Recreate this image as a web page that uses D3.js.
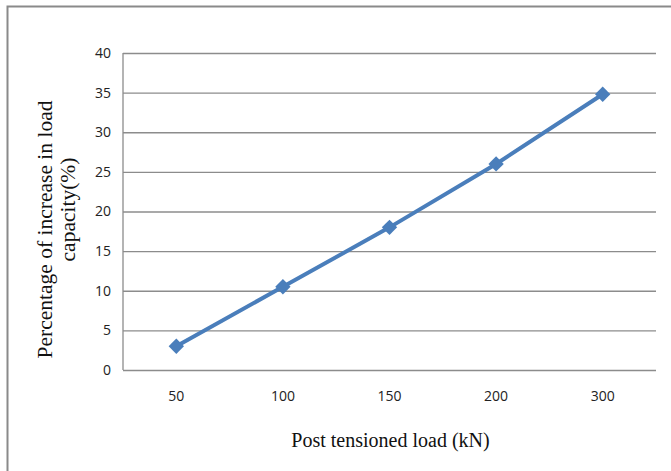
<!DOCTYPE html>
<html lang="en">
<head>
<meta charset="UTF-8">
<title>Post tensioned load vs increase in load capacity</title>
<script src="https://d3js.org/d3.v7.min.js"></script>
<style>
	body { margin: 0; background: #fff; }
	.grid line { stroke: #8c8c8c; stroke-width: 1.3; }
	.grid path { display: none; }
	.tick-label { font-family: "Open Sans", "Liberation Sans", sans-serif; font-size: 14px; fill: #222; }
	.axis-title { font-family: "Liberation Serif", "DejaVu Serif", serif; fill: #111; }
</style>
</head>
<body>
<div id="chart"></div>
<script>
// data
const loads = ["50", "100", "150", "200", "300"];
const increase = [3, 10.5, 18, 26, 34.8];
const yTicks = [0, 5, 10, 15, 20, 25, 30, 35, 40];

const W = 671, H = 471;
const margin = {top: 53, right: 15, bottom: 101, left: 123};
const width = W - margin.left - margin.right,
	  height = H - margin.top - margin.bottom;

const root = d3.select("#chart").append("svg")
	.attr("width", W)
	.attr("height", H);

// outer frame (only top and left edges fall inside the picture)
root.append("rect")
	.attr("x", 7.5).attr("y", 6.5)
	.attr("width", W + 20).attr("height", H + 20)
	.attr("fill", "none")
	.attr("stroke", "#8a8a8a")
	.attr("stroke-width", 2);

const svg = root.append("g")
	.attr("transform", `translate(${margin.left},${margin.top})`);

const x = d3.scaleBand().domain(loads).range([0, width]);
const y = d3.scaleLinear().domain([0, 40]).range([height, 0]);

// horizontal grid lines
svg.append("g")
	.attr("class", "grid")
	.call(d3.axisLeft(y).tickValues(yTicks).tickSize(-width).tickFormat(""));

// y axis line
svg.append("line")
	.attr("x1", 0).attr("x2", 0)
	.attr("y1", 0).attr("y2", height)
	.attr("stroke", "#8c8c8c").attr("stroke-width", 1.3);

// y tick labels
svg.selectAll(".ylab")
	.data(yTicks)
	.join("text")
	.attr("class", "tick-label")
	.attr("x", -12)
	.attr("y", d => y(d))
	.attr("dy", "0.35em")
	.attr("text-anchor", "end")
	.text(d => d);

// x tick labels
svg.selectAll(".xlab")
	.data(loads)
	.join("text")
	.attr("class", "tick-label")
	.attr("x", d => x(d) + x.bandwidth() / 2)
	.attr("y", height + 31)
	.attr("text-anchor", "middle")
	.text(d => d);

const pts = loads.map((d, i) => ({load: d, value: increase[i]}));

const line = d3.line()
	.x(d => x(d.load) + x.bandwidth() / 2)
	.y(d => y(d.value));

svg.append("path")
	.datum(pts)
	.attr("fill", "none")
	.attr("stroke", "#4a7ebb")
	.attr("stroke-width", 4)
	.attr("d", line);

svg.selectAll(".marker")
	.data(pts)
	.join("path")
	.attr("class", "marker")
	.attr("d", d3.symbol().type(d3.symbolDiamond2).size(150))
	.attr("transform", d => `translate(${x(d.load) + x.bandwidth() / 2},${y(d.value)})`)
	.attr("fill", "#4a7ebb");

// x axis title
svg.append("text")
	.attr("class", "axis-title")
	.style("font-size", "20px")
	.attr("x", width / 2 + 1)
	.attr("y", height + 77)
	.attr("text-anchor", "middle")
	.text("Post tensioned load (kN)");

// y axis title, two lines
svg.append("text")
	.attr("class", "axis-title")
	.style("font-size", "21.5px")
	.attr("transform", `translate(${-71},${height / 2 + 18}) rotate(-90)`)
	.attr("text-anchor", "middle")
	.text("Percentage of increase in load");

svg.append("text")
	.attr("class", "axis-title")
	.style("font-size", "21.5px")
	.attr("transform", `translate(${-48},${height / 2 - 2}) rotate(-90)`)
	.attr("text-anchor", "middle")
	.text("capacity(%)");
</script>
</body>
</html>
